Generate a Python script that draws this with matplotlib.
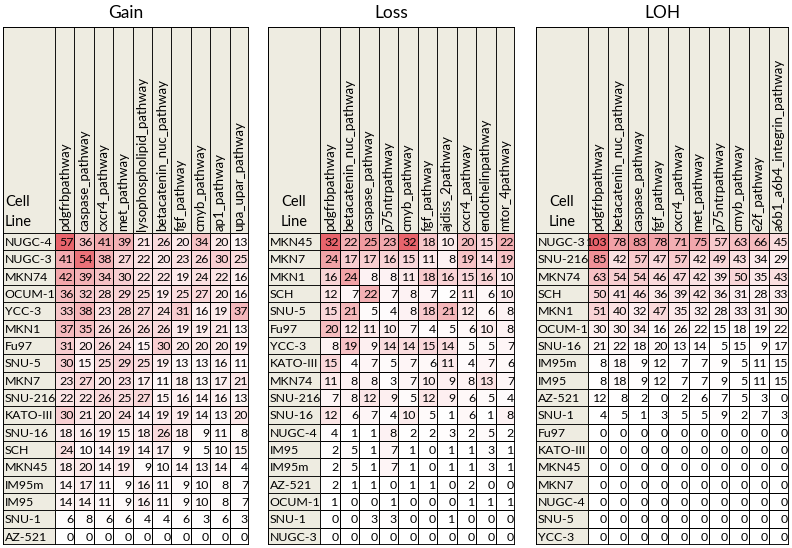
import matplotlib
matplotlib.use("Agg")
import matplotlib.pyplot as plt
import numpy as np
from matplotlib.colors import LinearSegmentedColormap, PowerNorm
from matplotlib.patches import Rectangle

plt.rcParams['font.family'] = ['Lato', 'DejaVu Sans']

# ---------------- data ----------------
gain_cols = ["pdgfrbpathway", "caspase_pathway", "cxcr4_pathway", "met_pathway",
             "lysophospholipid_pathway", "betacatenin_nuc_pathway", "fgf_pathway",
             "cmyb_pathway", "ap1_pathway", "upa_upar_pathway"]
gain_rows = ["NUGC-4", "NUGC-3", "MKN74", "OCUM-1", "YCC-3", "MKN1", "Fu97", "SNU-5",
             "MKN7", "SNU-216", "KATO-III", "SNU-16", "SCH", "MKN45", "IM95m", "IM95",
             "SNU-1", "AZ-521"]
gain_vals = [
    [57, 36, 41, 39, 21, 26, 20, 34, 20, 13],
    [41, 54, 38, 27, 22, 20, 23, 26, 30, 25],
    [42, 39, 34, 30, 22, 22, 19, 24, 22, 16],
    [36, 32, 28, 29, 25, 19, 25, 27, 20, 16],
    [33, 38, 23, 28, 27, 24, 31, 16, 19, 37],
    [37, 35, 26, 26, 26, 26, 19, 19, 21, 13],
    [31, 20, 26, 24, 15, 30, 20, 20, 20, 19],
    [30, 15, 25, 29, 25, 19, 13, 13, 16, 11],
    [23, 27, 20, 23, 17, 11, 18, 13, 17, 21],
    [22, 22, 26, 25, 27, 15, 16, 14, 16, 13],
    [30, 21, 20, 24, 14, 19, 19, 14, 13, 20],
    [18, 16, 19, 15, 18, 26, 18, 9, 11, 8],
    [24, 10, 14, 19, 14, 17, 9, 5, 10, 15],
    [18, 20, 14, 19, 9, 10, 14, 13, 14, 4],
    [14, 17, 11, 9, 16, 11, 9, 10, 8, 7],
    [14, 14, 11, 9, 16, 11, 9, 10, 8, 7],
    [6, 8, 6, 6, 4, 4, 6, 3, 6, 3],
    [0, 0, 0, 0, 0, 0, 0, 0, 0, 0],
]

loss_cols = ["pdgfrbpathway", "betacatenin_nuc_pathway", "caspase_pathway", "p75ntrpathway",
             "cmyb_pathway", "fgf_pathway", "ajdiss_2pathway", "cxcr4_pathway",
             "endothelinpathway", "mtor_4pathway"]
loss_rows = ["MKN45", "MKN7", "MKN1", "SCH", "SNU-5", "Fu97", "YCC-3", "KATO-III", "MKN74",
             "SNU-216", "SNU-16", "NUGC-4", "IM95", "IM95m", "AZ-521", "OCUM-1", "SNU-1",
             "NUGC-3"]
loss_vals = [
    [32, 22, 25, 23, 32, 18, 10, 20, 15, 22],
    [24, 17, 17, 16, 15, 11, 8, 19, 14, 19],
    [16, 24, 8, 8, 11, 18, 16, 15, 16, 10],
    [12, 7, 22, 7, 8, 7, 2, 11, 6, 10],
    [15, 21, 5, 4, 8, 18, 21, 12, 6, 8],
    [20, 12, 11, 10, 7, 4, 5, 6, 10, 8],
    [8, 19, 9, 14, 14, 15, 14, 5, 5, 7],
    [15, 4, 7, 5, 7, 6, 11, 4, 7, 6],
    [11, 8, 8, 3, 7, 10, 9, 8, 13, 7],
    [7, 8, 12, 9, 5, 12, 9, 6, 5, 4],
    [12, 6, 7, 4, 10, 5, 1, 6, 1, 8],
    [4, 1, 1, 8, 2, 2, 3, 2, 5, 2],
    [2, 5, 1, 7, 1, 0, 1, 1, 3, 1],
    [2, 5, 1, 7, 1, 0, 1, 1, 3, 1],
    [2, 1, 1, 0, 1, 1, 0, 2, 0, 0],
    [1, 0, 0, 1, 0, 0, 0, 1, 1, 1],
    [0, 0, 3, 3, 0, 0, 1, 0, 0, 0],
    [0, 0, 0, 0, 0, 0, 0, 0, 0, 0],
]

loh_cols = ["pdgfrbpathway", "betacatenin_nuc_pathway", "caspase_pathway", "fgf_pathway",
            "cxcr4_pathway", "met_pathway", "p75ntrpathway", "cmyb_pathway", "e2f_pathway",
            "a6b1_a6b4_integrin_pathway"]
loh_rows = ["NUGC-3", "SNU-216", "MKN74", "SCH", "MKN1", "OCUM-1", "SNU-16", "IM95m", "IM95",
            "AZ-521", "SNU-1", "Fu97", "KATO-III", "MKN45", "MKN7", "NUGC-4", "SNU-5", "YCC-3"]
loh_vals = [
    [103, 78, 83, 78, 71, 75, 57, 63, 66, 45],
    [85, 42, 57, 47, 57, 42, 49, 43, 34, 29],
    [63, 54, 54, 46, 47, 42, 39, 50, 35, 43],
    [50, 41, 46, 36, 39, 42, 36, 31, 28, 33],
    [51, 40, 32, 47, 35, 32, 28, 33, 31, 30],
    [30, 30, 34, 16, 26, 22, 15, 18, 19, 22],
    [21, 22, 18, 20, 13, 14, 5, 15, 9, 17],
    [8, 18, 9, 12, 7, 7, 9, 5, 11, 15],
    [8, 18, 9, 12, 7, 7, 9, 5, 11, 15],
    [12, 8, 2, 0, 2, 6, 7, 5, 3, 0],
    [4, 5, 1, 3, 5, 5, 9, 2, 7, 3],
    [0, 0, 0, 0, 0, 0, 0, 0, 0, 0],
    [0, 0, 0, 0, 0, 0, 0, 0, 0, 0],
    [0, 0, 0, 0, 0, 0, 0, 0, 0, 0],
    [0, 0, 0, 0, 0, 0, 0, 0, 0, 0],
    [0, 0, 0, 0, 0, 0, 0, 0, 0, 0],
    [0, 0, 0, 0, 0, 0, 0, 0, 0, 0],
    [0, 0, 0, 0, 0, 0, 0, 0, 0, 0],
]

titles = ["Gain", "Loss", "LOH"]

# ---------------- layout (pixels) ----------------
W, H = 792, 548
fig = plt.figure(figsize=(W / 100, H / 100), dpi=100)
fig.patch.set_facecolor("white")

# (left, label-column right, right) for each table
xspans = [(3, 55, 249), (268, 320, 515), (536, 588, 789)]
y_top, y_hdr, y_bot = 27, 233, 545

cmap = LinearSegmentedColormap.from_list("wr", ["#FFFFFF", "#E8646C"])
hdr_bg = "#EEECE1"
lbl_bg = "#EEECE1"
grid_lw = 0.6

tables = [(gain_cols, gain_rows, gain_vals), (loss_cols, loss_rows, loss_vals),
          (loh_cols, loh_rows, loh_vals)]

for t, ((cols, rows, vals), (x0, xl, x1), title) in enumerate(zip(tables, xspans, titles)):
    vals = np.array(vals)
    nr, nc = vals.shape
    colw = (x1 - xl) / nc
    roww = (y_bot - y_hdr) / nr
    lw_units = (xl - x0) / colw
    hdr_units = (y_hdr - y_top) / roww

    ax = fig.add_axes([x0 / W, 1 - y_bot / H, (x1 - x0) / W, (y_bot - y_top) / H])
    ax.set_xlim(-lw_units, nc)
    ax.set_ylim(nr, -hdr_units)
    ax.axis("off")

    norm = PowerNorm(gamma=1.8, vmin=0, vmax=vals.max())
    ax.pcolormesh(np.arange(nc + 1), np.arange(nr + 1), vals, cmap=cmap, norm=norm,
                  edgecolors="black", linewidth=grid_lw)

    # header cells
    ax.add_patch(Rectangle((-lw_units, -hdr_units), lw_units, hdr_units,
                           facecolor=hdr_bg, edgecolor="black", lw=grid_lw))
    for j, c in enumerate(cols):
        ax.add_patch(Rectangle((j, -hdr_units), 1, hdr_units,
                               facecolor=hdr_bg, edgecolor="black", lw=grid_lw))
        ax.text(j + 0.5, -0.12, c, rotation=90, ha="center", va="bottom",
                fontsize=9.5, color="black")

    # row label cells
    for i, r in enumerate(rows):
        ax.add_patch(Rectangle((-lw_units, i), lw_units, 1,
                               facecolor=lbl_bg, edgecolor="black", lw=grid_lw))
        ax.text(-lw_units + 0.08, i + 0.55, r, ha="left", va="center",
                fontsize=8.9, color="black")
        for j in range(nc):
            ax.text(j + 0.95, i + 0.55, str(vals[i, j]), ha="right", va="center",
                    fontsize=8.9, color="black")

    # "Cell Line"
    if t == 0:
        cx, ha = -lw_units + 0.1, "left"
    else:
        cx, ha = -lw_units / 2, "center"
    ax.text(cx, -1.8, "Cell", ha=ha, va="center", fontsize=10.5)
    ax.text(cx, -0.65, "Line", ha=ha, va="center", fontsize=10.5)

    # outer border
    ax.add_patch(Rectangle((-lw_units, -hdr_units), lw_units + nc, hdr_units + nr,
                           facecolor="none", edgecolor="black", lw=1.3, zorder=5))

    fig.text((x0 + x1) / 2 / W, 1 - 13 / H, title, ha="center", va="center",
             fontsize=12.5)

fig.savefig("out.png", dpi=100)
